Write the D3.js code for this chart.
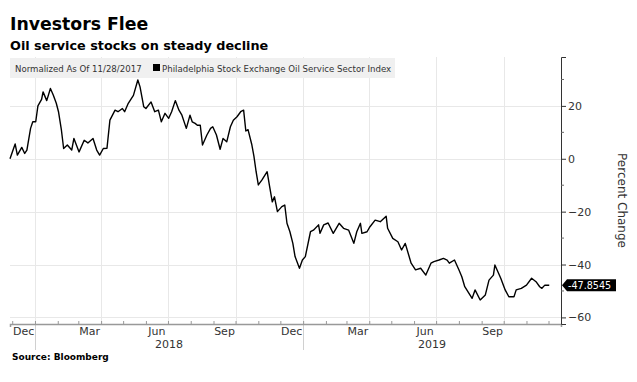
<!DOCTYPE html>
<html><head><meta charset="utf-8">
<script src="https://cdn.jsdelivr.net/npm/d3@7"></script>
<style>
body{margin:0;background:#fff;}
svg{display:block;font-family:"DejaVu Sans",sans-serif;}
</style></head>
<body>
<svg id="chart" width="637" height="382"></svg>
<script>
const title = "Investors Flee";
const subtitle = "Oil service stocks on steady decline";
const legendNote = "Normalized As Of 11/28/2017";
const seriesName = "Philadelphia Stock Exchange Oil Service Sector Index";
const source = "Source: Bloomberg";
const yAxisTitle = "Percent Change";
const lastValue = -47.8545;
const yTicks = [-60, -40, -20, 0, 20];
const monthLabels = ["Dec","Mar","Jun","Sep","Dec","Mar","Jun","Sep"];
const monthLabelDates = ["2017-12-01","2018-03-01","2018-06-01","2018-09-01","2018-12-01","2019-03-01","2019-06-01","2019-09-01"];
const yearLabels = ["2018","2019"];

const dates = [
"2017-11-28","2017-12-05","2017-12-08","2017-12-14","2017-12-18","2017-12-21","2017-12-26","2017-12-29",
"2018-01-02","2018-01-05","2018-01-10","2018-01-12","2018-01-17","2018-01-22","2018-01-26","2018-01-30",
"2018-02-02","2018-02-06","2018-02-09","2018-02-14","2018-02-20","2018-02-23","2018-03-02","2018-03-09",
"2018-03-14","2018-03-21","2018-03-26","2018-03-30","2018-04-04","2018-04-09","2018-04-13","2018-04-20",
"2018-04-24","2018-04-30","2018-05-03","2018-05-08","2018-05-15","2018-05-21","2018-05-24","2018-05-29",
"2018-06-01","2018-06-08","2018-06-13","2018-06-18","2018-06-22","2018-06-27","2018-07-02","2018-07-06",
"2018-07-11","2018-07-16","2018-07-20","2018-07-26","2018-07-31","2018-08-03","2018-08-07","2018-08-10",
"2018-08-14","2018-08-17","2018-08-23","2018-08-28","2018-08-31","2018-09-05","2018-09-10","2018-09-14",
"2018-09-19","2018-09-24","2018-09-28","2018-10-03","2018-10-08","2018-10-12","2018-10-15","2018-10-18",
"2018-10-23","2018-10-26","2018-10-29","2018-11-01","2018-11-06","2018-11-13","2018-11-16","2018-11-20",
"2018-11-23","2018-11-27","2018-12-03","2018-12-07","2018-12-10","2018-12-14","2018-12-18","2018-12-21",
"2018-12-27","2018-12-31","2019-01-04","2019-01-11","2019-01-15","2019-01-22","2019-01-24","2019-01-29",
"2019-02-04","2019-02-11","2019-02-19","2019-02-25","2019-03-04","2019-03-11","2019-03-15","2019-03-20",
"2019-03-22","2019-03-29","2019-04-02","2019-04-09","2019-04-16","2019-04-24","2019-04-26","2019-05-03",
"2019-05-10","2019-05-15","2019-05-20","2019-05-28","2019-06-03","2019-06-10","2019-06-17","2019-06-24",
"2019-06-28","2019-07-05","2019-07-11","2019-07-16","2019-07-19","2019-07-26","2019-08-01","2019-08-05",
"2019-08-09","2019-08-19","2019-08-23","2019-08-30","2019-09-06","2019-09-11","2019-09-17","2019-09-19",
"2019-09-24","2019-09-27","2019-10-03","2019-10-08","2019-10-15","2019-10-18","2019-10-25","2019-11-01",
"2019-11-08","2019-11-14","2019-11-19","2019-11-22","2019-11-26","2019-12-02"
];
const values = [
0, 5.6, 1.4, 4.3, 2.0, 3.3, 11.5, 14.0,
14.0, 20.0, 22.5, 25.3, 22.0, 26.6, 24.0, 21.0,
17.8, 10.8, 3.9, 5.2, 3.3, 7.7, 2.6, 7.0,
6.0, 7.7, 3.3, 1.4, 3.9, 4.0, 14.6, 18.4,
17.8, 19.0, 17.8, 21.0, 24.0, 29.8, 27.2, 19.7,
19.0, 21.5, 17.8, 18.4, 14.0, 17.2, 15.3, 17.8,
22.0, 18.4, 16.5, 11.5, 16.5, 14.0, 13.4, 12.7,
12.7, 5.2, 9.0, 11.5, 12.1, 9.0, 3.6, 7.7,
6.4, 12.1, 14.6, 15.9, 17.8, 18.4, 10.5, 11.0,
5.5, 1.0, -4.9, -9.9, -8.0, -4.9, -9.9, -16.3,
-14.4, -20.0, -18.1, -17.5, -24.4, -27.6, -32.0, -37.0,
-41.4, -38.3, -37.0, -27.6, -27.0, -25.0, -28.2, -25.0,
-24.3, -28.2, -24.4, -26.3, -27.0, -32.0, -27.6, -24.4,
-28.2, -27.6, -25.7, -23.2, -23.8, -21.7, -26.3, -30.1,
-31.4, -34.5, -32.0, -39.5, -42.0, -41.4, -44.0, -39.5,
-38.9, -38.3, -37.7, -38.3, -39.5, -38.3, -42.0, -44.6,
-48.4, -52.8, -49.6, -53.4, -51.5, -45.9, -44.0, -40.2,
-43.3, -45.2, -49.6, -52.2, -52.2, -49.6, -49.0, -47.8,
-45.2, -46.5, -48.4, -49.0, -47.8, -47.8545
];

const parse = d3.timeParse("%Y-%m-%d");
const data = dates.map((d, i) => ({date: parse(d), value: values[i]}));

const svg = d3.select("#chart");
const L = 10, R = 561, T = 57, B = 324;
const x = d3.scaleTime().domain([parse("2017-11-28"), parse("2019-12-18")]).range([L, R]);
const y = d3.scaleLinear().domain([-62.5, 38.5]).range([B, T]);

// titles
svg.append("text").attr("x", 10).attr("y", 30).attr("font-size", 17.3).attr("font-weight", "bold").attr("fill", "#000").text(title);
svg.append("text").attr("x", 10).attr("y", 50).attr("font-size", 12.8).attr("font-weight", "bold").attr("fill", "#000").text(subtitle);

// gridlines
const quarters = d3.timeMonth.every(3).range(parse("2018-01-01"), x.domain()[1]);
svg.append("g").selectAll("line").data(quarters).join("line")
  .attr("x1", d => Math.round(x(d)) + 0.5).attr("x2", d => Math.round(x(d)) + 0.5)
  .attr("y1", T).attr("y2", B).attr("stroke", "#e8e8e8").attr("stroke-width", 1);
svg.append("g").selectAll("line").data(yTicks).join("line")
  .attr("x1", L).attr("x2", R)
  .attr("y1", d => Math.round(y(d)) + 0.5).attr("y2", d => Math.round(y(d)) + 0.5)
  .attr("stroke", "#e8e8e8").attr("stroke-width", 1);

// legend band
const lg = svg.append("g");
lg.append("rect").attr("x", 10).attr("y", 58).attr("width", 385).attr("height", 20).attr("fill", "#f0f0f0");
lg.append("text").attr("x", 15).attr("y", 72).attr("font-size", 8.6).attr("fill", "#333").text(legendNote);
lg.append("rect").attr("x", 153).attr("y", 64).attr("width", 7).attr("height", 7).attr("fill", "#000");
lg.append("text").attr("x", 162).attr("y", 72).attr("font-size", 8.6).attr("fill", "#333").text(seriesName);

// year divider ticks below axis
const years = [parse("2018-01-01"), parse("2019-01-01")];
svg.append("g").selectAll("line").data(years).join("line")
  .attr("x1", d => Math.round(x(d)) + 0.5).attr("x2", d => Math.round(x(d)) + 0.5)
  .attr("y1", B).attr("y2", 350).attr("stroke", "#d0d0d0");

// x axis
const xAxis = d3.axisBottom(x).ticks(d3.timeMonth.every(1)).tickSize(3).tickFormat("");
const gx = svg.append("g").attr("transform", `translate(0,${B})`).call(xAxis);
gx.select(".domain").attr("stroke", "#999").attr("stroke-width", 1.5);
gx.selectAll(".tick line").attr("stroke", "#999").attr("y1", -3).attr("y2", 0);

// month labels centered in month interval
svg.append("g").selectAll("text").data(monthLabelDates).join("text")
  .attr("x", d => { const s = parse(d); return (x(s) + x(d3.timeMonth.offset(s, 1))) / 2; })
  .attr("y", 335).attr("text-anchor", "middle").attr("font-size", 11).attr("fill", "#333")
  .text((d, i) => monthLabels[i]);
// year labels
svg.append("g").selectAll("text").data(years).join("text")
  .attr("x", d => { const e = d3.min([d3.timeYear.offset(d, 1), x.domain()[1]]); return (x(d) + x(e)) / 2; })
  .attr("y", 348).attr("text-anchor", "middle").attr("font-size", 11).attr("fill", "#333")
  .text((d, i) => yearLabels[i]);

// y axis on right
const yAxis = d3.axisRight(y).tickValues(yTicks).tickSize(5).tickPadding(2).tickFormat(d3.format("d"));
const gy = svg.append("g").attr("transform", `translate(${R},0)`).call(yAxis);
gy.select(".domain").attr("stroke", "#333");
gy.selectAll(".tick text").attr("font-size", 11).attr("fill", "#333").attr("font-family", "DejaVu Sans");
gy.selectAll(".tick line").attr("stroke", "#333");
const minor = d3.range(-50, 40, 20);
svg.append("g").selectAll("line").data(minor).join("line")
  .attr("x1", R).attr("x2", R + 3).attr("y1", d => y(d)).attr("y2", d => y(d)).attr("stroke", "#666");

svg.append("text").attr("transform", `translate(618,${(T + B) / 2 + 10}) rotate(90)`)
  .attr("text-anchor", "middle").attr("font-size", 12).attr("fill", "#333").text(yAxisTitle);

// line
const line = d3.line().x(d => x(d.date)).y(d => y(d.value));
svg.append("path").datum(data).attr("d", line).attr("fill", "none").attr("stroke", "#000").attr("stroke-width", 1.4).attr("stroke-linejoin", "round");

// last value label
const ly = y(lastValue);
svg.append("path").attr("d", `M${R + 1},${ly} L${R + 6},${ly - 6} L${R + 55},${ly - 6} L${R + 55},${ly + 6} L${R + 6},${ly + 6} Z`).attr("fill", "#000");
svg.append("text").attr("x", R + 7).attr("y", ly + 3.5).attr("font-size", 9.6).attr("fill", "#fff").text(lastValue.toString());

// source
svg.append("text").attr("x", 12).attr("y", 360).attr("font-size", 9).attr("font-weight", "bold").attr("fill", "#000").text(source);
</script>
</body></html>
